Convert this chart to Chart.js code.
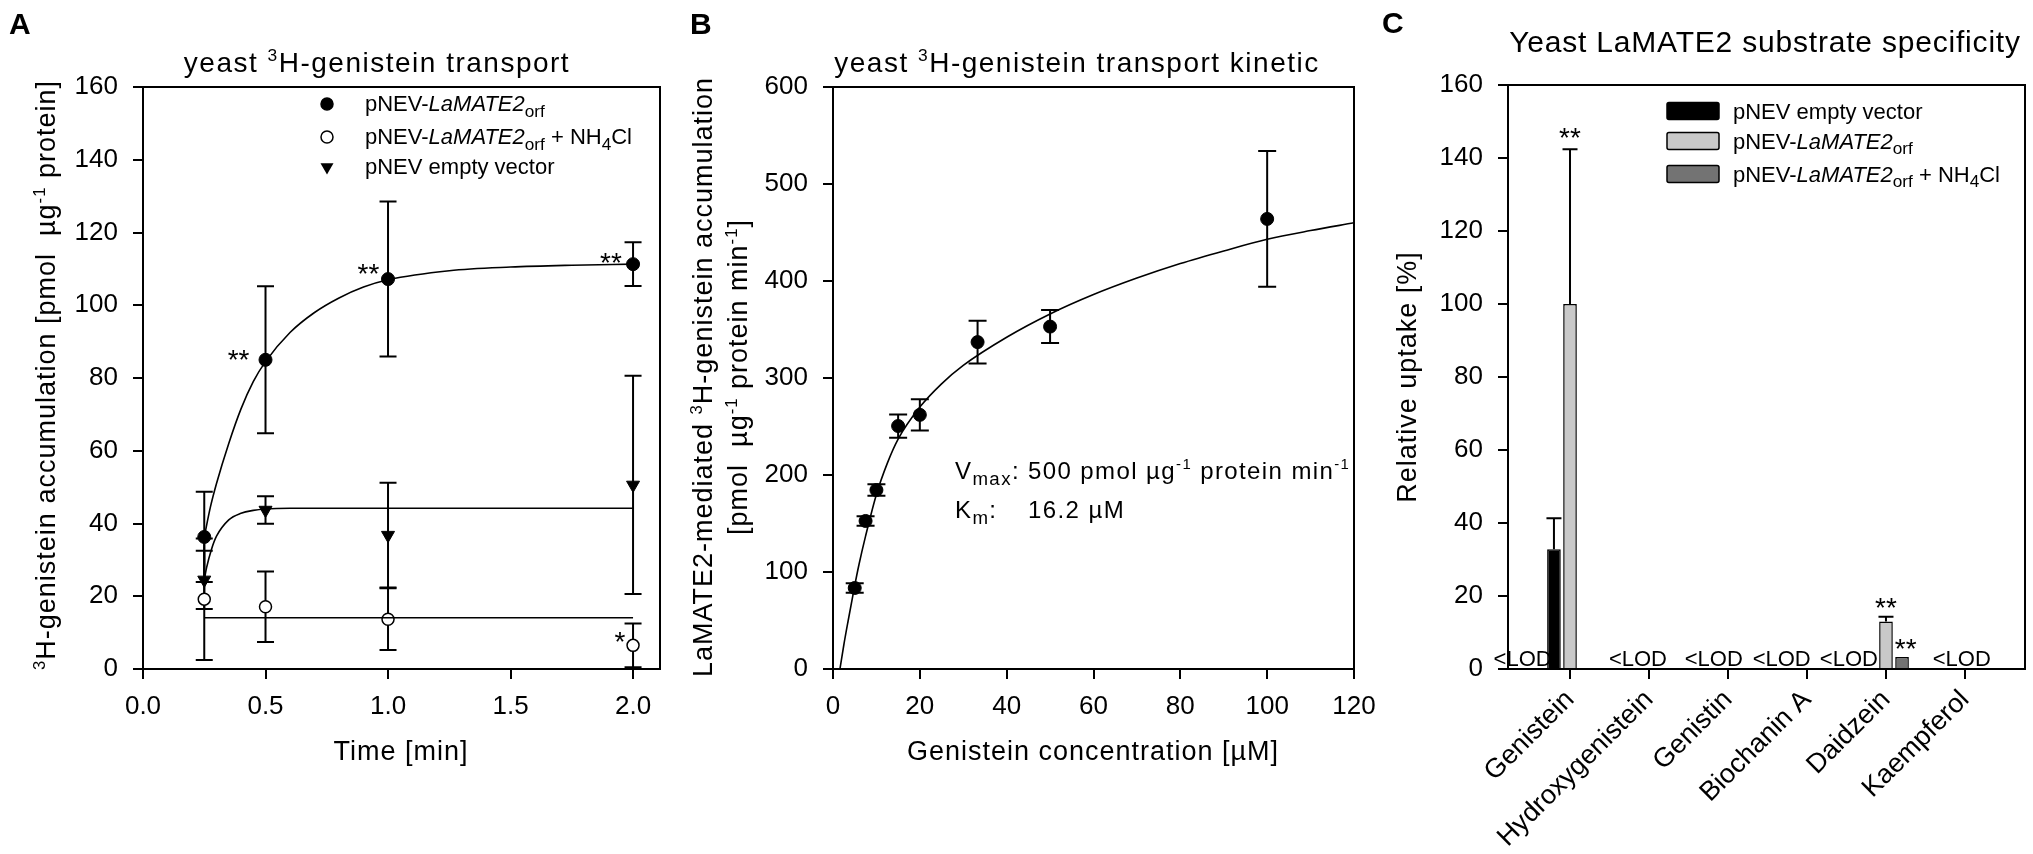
<!DOCTYPE html>
<html>
<head>
<meta charset="utf-8">
<script src="https://cdn.jsdelivr.net/npm/chart.js@4.4.1/dist/chart.umd.min.js"></script>
<style>
  body { margin: 0; background: #fff; }
  #page { position: relative; width: 2033px; height: 854px; overflow: hidden; background: #fff; }
  canvas { position: absolute; top: 0; }
</style>
</head>
<body>
<div id="page">
  <canvas id="chartA" width="690" height="854" style="left:0px"></canvas>
  <canvas id="chartB" width="720" height="854" style="left:680px"></canvas>
  <canvas id="chartC" width="663" height="854" style="left:1370px"></canvas>
</div>
<script>
// ---- Panel A: time course ----
const timeA = [0.25, 0.5, 1.0, 2.0]
const laMate2 = [36.3, 85, 107.2, 111.3]
const laMate2Err = [12.4, 20.2, 21.3, 6.0]
const laMate2Nh4 = [19.2, 17.1, 13.7, 6.5]
const laMate2Nh4Err = [16.7, 9.7, 8.5, 6.0]
const emptyVec = [24.5, 43.7, 36.8, 50.6]
const emptyVecErr = [8.0, 3.8, 14.4, 30.0]

// fitted curves
const fitLaTime = [0.25, 0.275, 0.3, 0.35, 0.4, 0.45, 0.5, 0.6, 0.7, 0.8, 0.9, 1.0, 1.25, 1.5, 1.75, 2.0]
const fitLa = [36.3, 44.5, 51, 62, 71.5, 79, 84.5, 92.5, 98, 102, 105, 107, 109.5, 110.5, 111, 111.3]
const fitEvTime = [0.25, 0.26, 0.28, 0.3, 0.35, 0.4, 0.45, 0.5, 0.6, 2.0]
const fitEv = [24.5, 28, 33, 36.5, 41, 42.8, 43.6, 44, 44.2, 44.2]
const fitNhTime = [0.25, 2.0]
const fitNh = [14.1, 14.1]

const timeTicks = [0, 0.5, 1, 1.5, 2]
const timeLabels = ['0.0', '0.5', '1.0', '1.5', '2.0']
const accTicks = [0, 20, 40, 60, 80, 100, 120, 140, 160]

// significance marks in A
const starAx = [0.39, 0.92, 1.91, 1.947]
const starAy = [86.9, 110.5, 113.5, 9.3]
const starAt = ['**', '**', '**', '*']

// ---- Panel B: kinetics ----
const conc = [5, 7.5, 10, 15, 20, 33.3, 50, 100]
const rate = [83.5, 152.6, 184.5, 250.5, 262, 337, 353, 464]
const rateErr = [5, 5, 6, 12, 16, 22, 17, 70]
const fitConc = [1.6, 2.5, 3.5, 5, 6, 7.5, 10, 12.5, 15, 20, 25, 30, 40, 50, 60, 70, 80, 90, 100, 110, 120]
const fitRate = [0, 25, 50, 86, 108, 137, 180, 212, 237, 270, 294, 313, 342, 366, 386, 403, 418, 431, 443, 452, 460]
const concTicks = [0, 20, 40, 60, 80, 100, 120]
const rateTicks = [0, 100, 200, 300, 400, 500, 600]

// ---- Panel C: substrate specificity ----
const substrates = ['Genistein', 'Hydroxygenistein', 'Genistin', 'Biochanin A', 'Daidzein', 'Kaempferol']
const uptakeEmpty = [32.8, null, null, null, null, null]
const uptakeEmptyErr = [8.5, 0, 0, 0, 0, 0]
const uptakeLa = [100, null, null, null, 13, null]
const uptakeLaErr = [42.4, 0, 0, 0, 1.3, 0]
const uptakeNh4 = [null, null, null, null, 3.3, null]
const uptakeNh4Err = [0, 0, 0, 0, 0, 0]
const uptakeTicks = [0, 20, 40, 60, 80, 100, 120, 140, 160]

const lodX = [-0.6, 0.86, 1.82, 2.68, 3.53, 4.96]
const lodY = [3, 3, 3, 3, 3, 3]
const starCx = [0, 4, 4.25]
const starCy = [147.5, 18.5, 7.5]

const FONT = '"Liberation Sans", Arial, Helvetica, sans-serif'
Chart.defaults.font.family = FONT
Chart.defaults.color = '#000'

// ---------- rich text helpers (^{sup}, _{sub}, ~italic~) ----------
function parseRich(str) {
  const out = []
  const re = /\^\{([^}]*)\}|_\{([^}]*)\}|~([^~]*)~|([^^_~]+)/g
  let m
  while ((m = re.exec(str))) {
    if (m[1] !== undefined) out.push({ t: m[1], k: 'sup' })
    else if (m[2] !== undefined) out.push({ t: m[2], k: 'sub' })
    else if (m[3] !== undefined) out.push({ t: m[3], k: 'it' })
    else out.push({ t: m[4], k: '' })
  }
  return out
}

function segFont(s, size) {
  const fs = s.k === 'sup' ? size * 0.62 : s.k === 'sub' ? size * 0.78 : size
  return (s.k === 'it' ? 'italic ' : '') + fs.toFixed(1) + 'px ' + FONT
}

function richWidth(ctx, segs, size) {
  return segs.reduce((w, s) => {
    ctx.font = segFont(s, size)
    return w + ctx.measureText(s.t).width
  }, 0)
}

function drawRich(ctx, str, x, y, size, align, spacing) {
  const segs = parseRich(str)
  ctx.letterSpacing = (spacing || 0) + 'px'
  const w = richWidth(ctx, segs, size)
  let cx = align === 'center' ? x - w / 2 : align === 'right' ? x - w : x
  ctx.textAlign = 'left'
  ctx.textBaseline = 'alphabetic'
  segs.forEach(s => {
    ctx.font = segFont(s, size)
    const dy = s.k === 'sup' ? -size * 0.4 : s.k === 'sub' ? size * 0.25 : 0
    ctx.fillText(s.t, cx, y + dy)
    cx += ctx.measureText(s.t).width
  })
  ctx.letterSpacing = '0px'
}

function drawRichV(ctx, str, x, yc, size, spacing) {
  ctx.save()
  ctx.translate(x, yc)
  ctx.rotate(-Math.PI / 2)
  drawRich(ctx, str, 0, size * 0.35, size, 'center', spacing)
  ctx.restore()
}

function marker(ctx, kind, x, y) {
  ctx.beginPath()
  if (kind === 'tri') {
    const r = 7.5
    ctx.moveTo(x - r * 0.866, y - r * 0.5)
    ctx.lineTo(x + r * 0.866, y - r * 0.5)
    ctx.lineTo(x, y + r)
    ctx.closePath()
    ctx.fillStyle = '#000'
    ctx.fill()
  } else {
    ctx.arc(x, y, 6, 0, Math.PI * 2)
    ctx.fillStyle = kind === 'open' ? '#fff' : '#000'
    ctx.fill()
    ctx.lineWidth = 1.5
    ctx.stroke()
  }
  ctx.fillStyle = '#000'
}

// ---------- plugins ----------
function drawErr(chart, o) {
  const ctx = chart.ctx
  const sy = chart.scales.y
  ctx.save()
  ctx.strokeStyle = '#000'
  ctx.lineWidth = o.lineWidth
  o.sets.forEach(set => {
    const meta = chart.getDatasetMeta(set.dataset)
    const data = chart.data.datasets[set.dataset].data
    meta.data.forEach((el, i) => {
      const e = set.err[i]
      const v = data[i].y
      if (!e || v == null) return
      const top = sy.getPixelForValue(v + e)
      const bot = o.upOnly ? el.y : sy.getPixelForValue(v - e)
      ctx.beginPath()
      ctx.moveTo(el.x, top)
      ctx.lineTo(el.x, bot)
      ctx.moveTo(el.x - o.cap, top)
      ctx.lineTo(el.x + o.cap, top)
      if (!o.upOnly) {
        ctx.moveTo(el.x - o.cap, bot)
        ctx.lineTo(el.x + o.cap, bot)
      }
      ctx.stroke()
    })
  })
  ctx.restore()
}

const errorBars = {
  id: 'errorBars',
  beforeDatasetsDraw(chart, args, o) { if (!o.onTop) drawErr(chart, o) },
  afterDatasetsDraw(chart, args, o) { if (o.onTop) drawErr(chart, o) }
}

const decor = {
  id: 'decor',
  afterDraw(chart, args, o) {
    const ctx = chart.ctx
    const a = chart.chartArea
    const sx = chart.scales.x
    const sy = chart.scales.y
    ctx.save()
    ctx.translate(-o.left, 0) // page coordinates from here on
    ctx.fillStyle = '#000'
    ctx.strokeStyle = '#000'

    // plot frame
    ctx.lineWidth = 2
    ctx.strokeRect(a.left + o.left, a.top, a.right - a.left, a.bottom - a.top)

    // panel letter
    ctx.font = 'bold 30px ' + FONT
    ctx.textAlign = 'left'
    ctx.textBaseline = 'alphabetic'
    ctx.fillText(o.letter.t, o.letter.x, o.letter.y)

    drawRich(ctx, o.title.t, o.title.x, o.title.y, o.title.size, 'center', o.title.spacing)
    if (o.xTitle) drawRich(ctx, o.xTitle.t, o.xTitle.x, o.xTitle.y, o.xTitle.size, 'center', o.xTitle.spacing)
    o.yTitles.forEach(t => drawRichV(ctx, t.t, t.x, t.y, t.size, t.spacing))

    // legend with point markers (A)
    if (o.markers) {
      o.markers.rows.forEach(r => {
        marker(ctx, r.kind, o.markers.x, r.y)
        drawRich(ctx, r.t, o.markers.tx, r.y + 7, o.markers.size, 'left', 0)
      })
    }

    // legend with boxes (C)
    if (o.boxes) {
      const b = o.boxes
      b.rows.forEach(r => {
        ctx.beginPath()
        ctx.roundRect(b.x, r.y - b.h / 2, b.w, b.h, 2)
        ctx.fillStyle = r.color
        ctx.fill()
        ctx.lineWidth = 1.5
        ctx.strokeStyle = '#000'
        ctx.stroke()
        ctx.fillStyle = '#000'
        drawRich(ctx, r.t, b.tx, r.y + 7.5, b.size, 'left', 0)
      })
    }

    // notes placed in data units (stars, <LOD)
    o.notes.forEach(n => {
      ctx.font = n.size + 'px ' + FONT
      ctx.textAlign = 'center'
      ctx.textBaseline = 'alphabetic'
      n.x.forEach((xv, i) => {
        const px = sx.getPixelForValue(xv) + o.left
        const py = sy.getPixelForValue(n.y[i])
        ctx.fillText(n.t[i], px, py + n.size * n.lift)
      })
    })
    ctx.restore()
  }
}

// Vmax / Km text in B
const kmText = {
  id: 'kmText',
  afterDraw(chart) {
    const ctx = chart.ctx
    const size = 24, sp = 1.4, x0 = 955
    ctx.save()
    ctx.translate(-680, 0)
    ctx.fillStyle = '#000'
    drawRich(ctx, 'V_{max}: 500 pmol µg^{-1} protein min^{-1}', x0, 479, size, 'left', sp)
    ctx.letterSpacing = sp + 'px'
    const w = richWidth(ctx, parseRich('V_{max}: '), size)
    drawRich(ctx, 'K_{m}:', x0, 518, size, 'left', sp)
    drawRich(ctx, '16.2 µM', x0 + w, 518, size, 'left', sp)
    ctx.restore()
  }
}

// ---------- shared pieces ----------
const pts = (xs, ys) => xs.map((x, i) => ({ x, y: ys[i] }))

const fitLine = (xs, ys) => ({
  data: pts(xs, ys), showLine: true, pointRadius: 0, pointHoverRadius: 0,
  borderColor: '#000', borderWidth: 1.6, cubicInterpolationMode: 'monotone', fill: false
})

const axis = (min, max, ticks, labels, pad, fit, size) => ({
  type: 'linear', min, max, offset: false,
  afterBuildTicks: s => { s.ticks = ticks.map(v => ({ value: v })) },
  afterFit: fit,
  ticks: {
    font: { family: FONT, size: size || 26 }, color: '#000', padding: pad,
    autoSkip: false, maxRotation: 0, minRotation: 0,
    callback: v => labels[ticks.indexOf(v)]
  },
  grid: { drawOnChartArea: false, drawTicks: true, tickLength: 10, color: '#000', lineWidth: 2, offset: false },
  border: { display: true, color: '#000', width: 2 }
})

const baseOpts = {
  responsive: false,
  devicePixelRatio: 1,
  animation: false,
  events: []
}

// ---------- Chart A ----------
new Chart(document.getElementById('chartA'), {
  type: 'scatter',
  data: {
    datasets: [
      fitLine(fitLaTime, fitLa),
      fitLine(fitEvTime, fitEv),
      fitLine(fitNhTime, fitNh),
      { data: pts(timeA, laMate2), pointStyle: 'circle', pointRadius: 6.5, backgroundColor: '#000', borderColor: '#000', borderWidth: 1 },
      { data: pts(timeA, laMate2Nh4), pointStyle: 'circle', pointRadius: 6, backgroundColor: '#fff', borderColor: '#000', borderWidth: 1.5 },
      { data: pts(timeA, emptyVec), pointStyle: 'triangle', pointRotation: 180, pointRadius: 7.5, backgroundColor: '#000', borderColor: '#000', borderWidth: 1 }
    ]
  },
  options: {
    ...baseOpts,
    layout: { padding: { left: 0, right: 30, top: 87, bottom: 0 } },
    plugins: {
      legend: { display: false },
      tooltip: { enabled: false },
      errorBars: {
        lineWidth: 2, cap: 8.5,
        sets: [{ dataset: 3, err: laMate2Err }, { dataset: 4, err: laMate2Nh4Err }, { dataset: 5, err: emptyVecErr }]
      },
      decor: {
        left: 0,
        letter: { t: 'A', x: 9, y: 34 },
        title: { t: 'yeast ^{3}H-genistein transport', x: 377, y: 72, size: 28, spacing: 1.5 },
        xTitle: { t: 'Time [min]', x: 401, y: 760, size: 27, spacing: 1 },
        yTitles: [{ t: '^{3}H-genistein accumulation [pmol  µg^{-1} protein]', x: 46, y: 375, size: 27, spacing: 1 }],
        markers: {
          x: 327, tx: 365, size: 22,
          rows: [
            { kind: 'filled', y: 104, t: 'pNEV-~LaMATE2~_{orf}' },
            { kind: 'open', y: 137, t: 'pNEV-~LaMATE2~_{orf} + NH_{4}Cl' },
            { kind: 'tri', y: 167, t: 'pNEV empty vector' }
          ]
        },
        notes: [{ x: starAx, y: starAy, t: starAt, size: 28, lift: 0.57 }]
      }
    },
    scales: {
      x: axis(0, 2.11, timeTicks, timeLabels, 12, s => { s.height = 854 - 669 }),
      y: axis(0, 160, accTicks, accTicks.map(String), 15, s => { s.width = 143 })
    }
  },
  plugins: [errorBars, decor]
})

// ---------- Chart B ----------
new Chart(document.getElementById('chartB'), {
  type: 'scatter',
  data: {
    datasets: [
      fitLine(fitConc, fitRate),
      { data: pts(conc, rate), pointStyle: 'circle', pointRadius: 6.5, backgroundColor: '#000', borderColor: '#000', borderWidth: 1 }
    ]
  },
  options: {
    ...baseOpts,
    layout: { padding: { left: 0, right: 46, top: 87, bottom: 0 } },
    plugins: {
      legend: { display: false },
      tooltip: { enabled: false },
      errorBars: { lineWidth: 2, cap: 9, sets: [{ dataset: 1, err: rateErr }] },
      decor: {
        left: 680,
        letter: { t: 'B', x: 690, y: 34 },
        title: { t: 'yeast ^{3}H-genistein transport kinetic', x: 1077, y: 72, size: 28, spacing: 1.5 },
        xTitle: { t: 'Genistein concentration [µM]', x: 1093, y: 760, size: 27, spacing: 1 },
        yTitles: [
          { t: 'LaMATE2-mediated ^{3}H-genistein accumulation', x: 703, y: 377, size: 27, spacing: 1 },
          { t: '[pmol  µg^{-1} protein min^{-1}]', x: 738, y: 377, size: 27, spacing: 1 }
        ],
        notes: []
      }
    },
    scales: {
      x: axis(0, 120, concTicks, concTicks.map(String), 12, s => { s.height = 854 - 669 }),
      y: axis(0, 600, rateTicks, rateTicks.map(String), 15, s => { s.width = 153 })
    }
  },
  plugins: [errorBars, decor, kmText]
})

// ---------- Chart C ----------
const barSet = (vals, color) => ({
  data: vals.map((v, i) => ({ x: i, y: v })),
  backgroundColor: color, borderColor: '#000', borderWidth: 1.5,
  categoryPercentage: 0.61, barPercentage: 0.85
})

const xC = axis(-0.785, 5.76, substrates.map((s, i) => i), substrates, 5, s => { s.height = 854 - 669 }, 27)
xC.ticks.maxRotation = 45
xC.ticks.minRotation = 45

new Chart(document.getElementById('chartC'), {
  type: 'bar',
  data: {
    datasets: [
      barSet(uptakeEmpty, '#000000'),
      barSet(uptakeLa, '#c9c9c9'),
      barSet(uptakeNh4, '#737373')
    ]
  },
  options: {
    ...baseOpts,
    layout: { padding: { left: 0, right: 8, top: 85, bottom: 0 } },
    plugins: {
      legend: { display: false },
      tooltip: { enabled: false },
      errorBars: {
        onTop: true, upOnly: true, lineWidth: 2, cap: 7.5,
        sets: [{ dataset: 0, err: uptakeEmptyErr }, { dataset: 1, err: uptakeLaErr }, { dataset: 2, err: uptakeNh4Err }]
      },
      decor: {
        left: 1370,
        letter: { t: 'C', x: 1382, y: 33 },
        title: { t: 'Yeast LaMATE2 substrate specificity', x: 1765, y: 52, size: 30, spacing: 0.8 },
        yTitles: [{ t: 'Relative uptake [%]', x: 1407, y: 377, size: 27, spacing: 1 }],
        boxes: {
          x: 1667, w: 52, h: 17, tx: 1733, size: 22,
          rows: [
            { y: 111, color: '#000000', t: 'pNEV empty vector' },
            { y: 141, color: '#c9c9c9', t: 'pNEV-~LaMATE2~_{orf}' },
            { y: 174, color: '#737373', t: 'pNEV-~LaMATE2~_{orf} + NH_{4}Cl' }
          ]
        },
        notes: [
          { x: lodX, y: lodY, t: lodX.map(() => '<LOD'), size: 22, lift: 0.36 },
          { x: starCx, y: starCy, t: starCx.map(() => '**'), size: 28, lift: 0.57 }
        ]
      }
    },
    scales: {
      x: xC,
      y: axis(0, 160, uptakeTicks, uptakeTicks.map(String), 15, s => { s.width = 138 })
    }
  },
  plugins: [errorBars, decor]
})
</script>
</body>
</html>
